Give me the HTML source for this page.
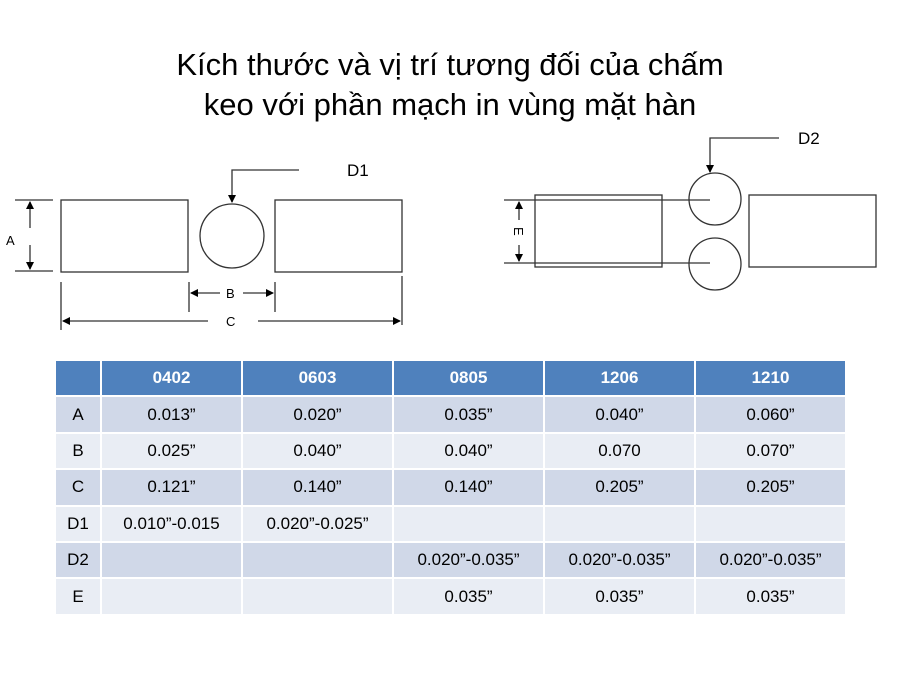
<!DOCTYPE html>
<html><head><meta charset="utf-8"><style>
body{margin:0;width:900px;height:675px;background:#fff;position:relative;overflow:hidden;font-family:"Liberation Sans",sans-serif}
.t{position:absolute;left:0;width:900px;text-align:center;font-size:31px;color:#000}
table{position:absolute;left:54px;top:359px;border-collapse:collapse;font-family:"Liberation Sans",sans-serif;font-size:17px}
td{border:2px solid #fff;text-align:center;height:34.4px;padding:0}
tr.h td{background:#4f81bd;color:#fff;font-weight:bold}
tr.o td{background:#d0d8e8}
tr.e td{background:#e9edf4}
</style></head><body>
<div class="t" style="top:47px">Kích thước và vị trí tương đối của chấm</div>
<div class="t" style="top:87px">keo với phần mạch in vùng mặt hàn</div>
<svg width="900" height="350" style="position:absolute;left:0;top:0" font-family="Liberation Sans, sans-serif">
<defs><marker id="a" markerWidth="8" markerHeight="8" refX="7" refY="4" orient="auto" markerUnits="userSpaceOnUse"><path d="M0,0 L8,4 L0,8z" fill="#000"/></marker></defs>
<g stroke="#333" stroke-width="1.3" fill="none">
<line x1="15" y1="200" x2="53" y2="200"/><line x1="15" y1="271" x2="53" y2="271"/>
<line x1="30" y1="228" x2="30" y2="202" marker-end="url(#a)"/><line x1="30" y1="245" x2="30" y2="269" marker-end="url(#a)"/>
<rect x="61" y="200" width="127" height="72"/><rect x="275" y="200" width="127" height="72"/>
<circle cx="232" cy="236" r="32"/>
<polyline points="299,170 232,170 232,202" marker-end="url(#a)"/>
<line x1="189" y1="282" x2="189" y2="312"/><line x1="275" y1="282" x2="275" y2="312"/>
<line x1="220" y1="293" x2="191" y2="293" marker-end="url(#a)"/><line x1="243" y1="293" x2="273" y2="293" marker-end="url(#a)"/>
<line x1="61" y1="282" x2="61" y2="330"/><line x1="402" y1="276" x2="402" y2="325"/>
<line x1="208" y1="321" x2="63" y2="321" marker-end="url(#a)"/><line x1="258" y1="321" x2="400" y2="321" marker-end="url(#a)"/>
<rect x="535" y="195" width="127" height="72"/><rect x="749" y="195" width="127" height="72"/>
<line x1="504" y1="200" x2="710" y2="200"/><line x1="504" y1="263" x2="710" y2="263"/>
<circle cx="715" cy="199" r="26"/><circle cx="715" cy="264" r="26"/>
<polyline points="779,138 710,138 710,172" marker-end="url(#a)"/>
<line x1="519" y1="220" x2="519" y2="202" marker-end="url(#a)"/><line x1="519" y1="245" x2="519" y2="261" marker-end="url(#a)"/>
</g>
<g font-size="13" fill="#000">
<text x="6" y="245">A</text><text x="226" y="298">B</text><text x="226" y="326">C</text>
<text x="513" y="238" transform="rotate(90 519 233)">E</text>
</g>
<text x="347" y="176" font-size="17">D1</text>
<text x="798" y="144" font-size="17">D2</text>
</svg>
<table>
<tr class="h"><td style="width:44px"></td><td style="width:139px">0402</td><td style="width:149px">0603</td><td style="width:149px">0805</td><td style="width:149px">1206</td><td style="width:149px">1210</td></tr>
<tr class="o"><td>A</td><td>0.013”</td><td>0.020”</td><td>0.035”</td><td>0.040”</td><td>0.060”</td></tr>
<tr class="e"><td>B</td><td>0.025”</td><td>0.040”</td><td>0.040”</td><td>0.070</td><td>0.070”</td></tr>
<tr class="o"><td>C</td><td>0.121”</td><td>0.140”</td><td>0.140”</td><td>0.205”</td><td>0.205”</td></tr>
<tr class="e"><td>D1</td><td>0.010”-0.015</td><td>0.020”-0.025”</td><td></td><td></td><td></td></tr>
<tr class="o"><td>D2</td><td></td><td></td><td>0.020”-0.035”</td><td>0.020”-0.035”</td><td>0.020”-0.035”</td></tr>
<tr class="e"><td>E</td><td></td><td></td><td>0.035”</td><td>0.035”</td><td>0.035”</td></tr>
</table>
</body></html>
